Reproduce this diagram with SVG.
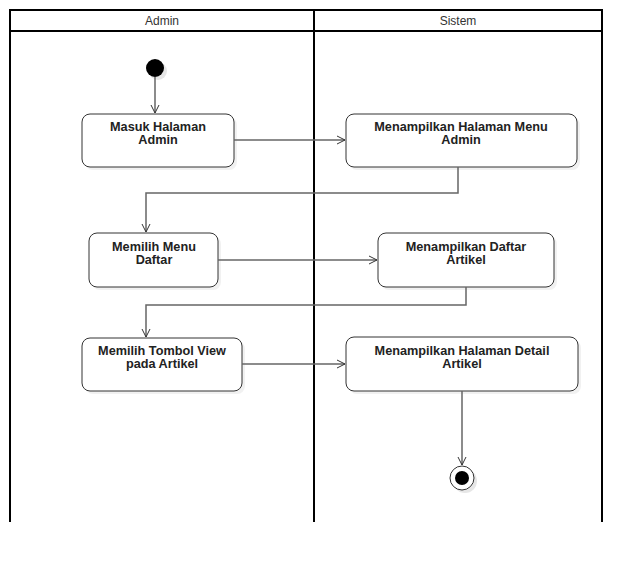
<svg xmlns="http://www.w3.org/2000/svg" width="642" height="562" viewBox="0 0 642 562">
<defs>
<marker id="arr" markerWidth="12" markerHeight="12" refX="9" refY="5" orient="auto" markerUnits="userSpaceOnUse">
<path d="M1,1 L9,5 L1,9" fill="none" stroke="#333" stroke-width="1"/>
</marker>
</defs>
<style>
.lane{fill:none;stroke:#000;stroke-width:2}
.hdr{font-family:"Liberation Sans",Arial,sans-serif;font-size:12px;fill:#333;text-anchor:middle}
.node rect.b{fill:#fff;stroke:#333;stroke-width:1}
.node rect.s{fill:#e8e8e8;stroke:none;opacity:0.6}
.node text{font-family:"Liberation Sans",Arial,sans-serif;font-size:12.7px;font-weight:bold;fill:#222;text-anchor:middle}
.conn path{fill:none;stroke:#666;stroke-width:1.5}
</style>
<rect width="642" height="562" fill="#fff"/>
<g id="lanes">
<path class="lane" d="M10,522 V10 H602 V522 M314,10 V522 M10,31 H602"/>
<text class="hdr" x="162" y="25">Admin</text>
<text class="hdr" x="458" y="25">Sistem</text>
</g>
<g id="start"><circle cx="158" cy="71" r="9" fill="#e6e6e6"/><circle cx="155" cy="68" r="9" fill="#000"/></g>
<g id="n1" class="node"><rect class="s" x="85" y="117" width="152" height="53" rx="8"/><rect class="b" x="82" y="114" width="152" height="53" rx="8"/><text x="158" y="131">Masuk Halaman</text><text x="158" y="144">Admin</text></g>
<g id="n2" class="node"><rect class="s" x="349" y="117" width="231" height="53" rx="8"/><rect class="b" x="346" y="114" width="231" height="53" rx="8"/><text x="461" y="131">Menampilkan Halaman Menu</text><text x="461" y="144">Admin</text></g>
<g id="n3" class="node"><rect class="s" x="92" y="236" width="129" height="54" rx="8"/><rect class="b" x="89" y="233" width="129" height="54" rx="8"/><text x="154" y="251">Memilih Menu</text><text x="154" y="264">Daftar</text></g>
<g id="n4" class="node"><rect class="s" x="381" y="236" width="176" height="54" rx="8"/><rect class="b" x="378" y="233" width="176" height="54" rx="8"/><text x="466" y="251">Menampilkan Daftar</text><text x="466" y="264">Artikel</text></g>
<g id="n5" class="node"><rect class="s" x="85" y="341" width="160" height="53" rx="8"/><rect class="b" x="82" y="338" width="160" height="53" rx="8"/><text x="162" y="355">Memilih Tombol View</text><text x="162" y="368">pada Artikel</text></g>
<g id="n6" class="node"><rect class="s" x="349" y="340" width="232" height="54" rx="8"/><rect class="b" x="346" y="337" width="232" height="54" rx="8"/><text x="462" y="355">Menampilkan Halaman Detail</text><text x="462" y="368">Artikel</text></g>
<g id="end"><circle cx="465" cy="481" r="12" fill="#e6e6e6"/><circle cx="462" cy="478" r="12" fill="#fff" stroke="#333" stroke-width="1"/><circle cx="462" cy="478" r="7" fill="#000"/></g>
<g id="connectors" class="conn">
<path d="M155,77 V113" marker-end="url(#arr)"/>
<path d="M234,140 H345" marker-end="url(#arr)"/>
<path d="M458,167 V193 H146 V232" marker-end="url(#arr)"/>
<path d="M218,260 H377" marker-end="url(#arr)"/>
<path d="M466,287 V305 H146 V337" marker-end="url(#arr)"/>
<path d="M242,364 H345" marker-end="url(#arr)"/>
<path d="M462,391 V465" marker-end="url(#arr)"/>
</g>
</svg>
